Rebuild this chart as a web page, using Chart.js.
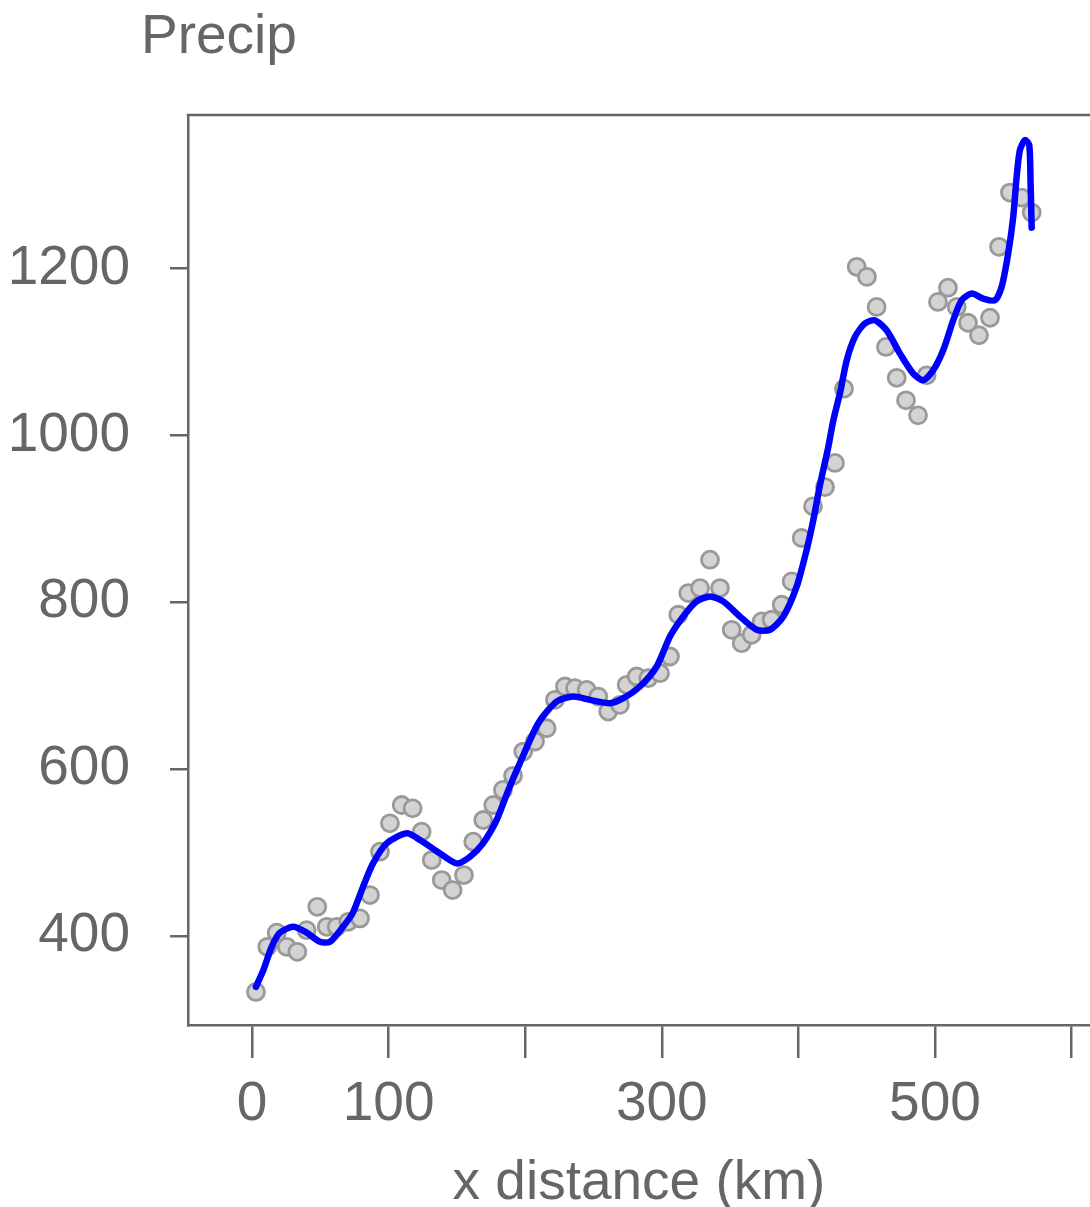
<!DOCTYPE html>
<html>
<head>
<meta charset="utf-8">
<script src="https://cdn.jsdelivr.net/npm/chart.js@4/dist/chart.umd.min.js"></script>
<style>
  html, body { margin: 0; padding: 0; background: #ffffff; overflow: hidden; }
  canvas { display: block; }
</style>
</head>
<body>
<canvas id="c" width="1090" height="1207"></canvas>
<script>
// ---- data ----
const pointX = [2.9, 11.2, 18.1, 25.4, 33.2, 40.0, 47.8, 54.7, 62.0, 70.5, 79.1, 86.4, 93.7, 101.0, 109.6, 117.6, 124.2, 131.6, 138.9, 146.9, 155.2, 162.0, 169.3, 176.6, 183.7, 191.1, 198.6, 207.2, 215.7, 221.8, 229.1, 236.5, 245.0, 253.5, 260.8, 269.4, 274.3, 281.6, 290.1, 298.7, 306.0, 312.1, 319.4, 328.0, 335.3, 342.6, 351.2, 358.5, 365.8, 373.1, 380.4, 387.8, 395.1, 402.4, 410.7, 419.5, 426.8, 433.4, 442.7, 450.2, 457.3, 464.1, 472.0, 478.8, 487.6, 493.9, 502.2, 509.5, 515.9, 524.2, 532.2, 540.3, 546.9, 554.9, 563.5, 570.8];
const pointY = [333, 387, 404, 387, 381, 407, 435, 411, 411, 417, 421, 449, 501, 535, 557, 553, 525, 491, 467, 455, 473, 513, 539, 557, 575, 592, 621, 633, 649, 683, 699, 697, 695, 687, 669, 677, 701, 711, 709, 715, 735, 785, 811, 817, 851, 817, 767, 751, 761, 777, 779, 797, 825, 877, 915, 938, 967, 1056, 1202, 1190, 1154, 1106, 1069, 1042, 1024, 1072, 1160, 1177, 1154, 1135, 1120, 1141, 1226, 1291, 1285, 1267];

const smoothX = [2.9, 8.3, 14.4, 20.5, 30.2, 40.0, 49.8, 57.1, 66.6, 73.9, 81.3, 88.6, 98.6, 113.3, 123.0, 137.6, 149.9, 159.6, 169.1, 179.1, 187.0, 195.0, 209.6, 223.1, 235.2, 247.4, 262.1, 271.8, 284.0, 296.3, 306.0, 315.7, 325.5, 335.3, 345.0, 357.2, 369.5, 379.2, 389.0, 398.8, 406.1, 411.0, 416.0, 421.9, 425.6, 430.5, 435.4, 441.4, 448.7, 456.0, 464.6, 474.4, 484.1, 491.4, 498.7, 506.0, 513.4, 519.5, 526.8, 535.3, 543.9, 548.8, 553.6, 557.3, 559.8, 562.2, 565.9, 569.0, 570.0, 570.8];
const smoothY = [339, 359, 387, 404, 411, 404, 393, 393, 411, 428, 459, 487, 511, 523, 515, 499, 487, 495, 511, 539, 572, 603, 655, 681, 687, 683, 679, 685, 699, 723, 759, 783, 801, 807, 801, 783, 767, 767, 783, 819, 863, 899, 942, 986, 1018, 1051, 1090, 1118, 1134, 1138, 1126, 1098, 1074, 1066, 1078, 1102, 1138, 1162, 1170, 1164, 1162, 1178, 1218, 1262, 1310, 1342, 1354, 1348, 1302, 1249];

const xTickValues = [0, 100, 200, 300, 400, 500, 600];
const xTickLabels = ['0', '100', '', '300', '', '500', ''];
const yTickValues = [400, 600, 800, 1000, 1200];
const yTickLabels = ['400', '600', '800', '1000', '1200'];

const chartTitle = 'Precip';
const xAxisTitle = 'x distance (km)';

// ---- chart ----
const TEXT = '#666666';
const AXIS = '#666666';
const FONT = 'Arial, "Liberation Sans", sans-serif';

const titleAndFrame = {
  id: 'titleAndFrame',
  afterDraw(chart) {
    const ctx = chart.ctx;
    const a = chart.chartArea;
    ctx.save();
    ctx.strokeStyle = AXIS;
    ctx.lineWidth = 2.5;
    ctx.beginPath();
    ctx.moveTo(a.left - 1.25, a.top);
    ctx.lineTo(chart.width, a.top);
    ctx.stroke();
    ctx.fillStyle = TEXT;
    ctx.font = '55px ' + FONT;
    ctx.textAlign = 'left';
    ctx.textBaseline = 'alphabetic';
    ctx.fillText(chartTitle, 141, 53);
    ctx.restore();
  }
};

new Chart(document.getElementById('c'), {
  type: 'scatter',
  data: {
    datasets: [
      {
        type: 'line',
        data: smoothX.map((x, i) => ({ x: x, y: smoothY[i] })),
        borderColor: '#0000ff',
        borderWidth: 6.5,
        pointRadius: 0,
        tension: 0.25,
        fill: false,
        borderJoinStyle: 'round',
        borderCapStyle: 'round'
      },
      {
        data: pointX.map((x, i) => ({ x: x, y: pointY[i] })),
        backgroundColor: '#d3d3d3',
        borderColor: '#999999',
        borderWidth: 2.8,
        pointRadius: 8.5
      }
    ]
  },
  options: {
    responsive: false,
    animation: false,
    events: [],
    layout: { autoPadding: false, padding: { top: 115, left: 0, right: 0, bottom: 0 } },
    plugins: {
      legend: { display: false },
      tooltip: { enabled: false },
      title: { display: false }
    },
    scales: {
      x: {
        type: 'linear',
        min: -46.85,
        max: 613.5,
        afterBuildTicks(scale) { scale.ticks = xTickValues.map(v => ({ value: v })); },
        afterFit(scale) { scale.height = 182; },
        ticks: {
          autoSkip: false,
          maxRotation: 0,
          padding: 14,
          color: TEXT,
          font: { family: FONT, size: 55 },
          callback(value) {
            const i = xTickValues.indexOf(value);
            return i >= 0 ? xTickLabels[i] : '';
          }
        },
        grid: {
          display: true,
          drawOnChartArea: false,
          drawTicks: true,
          tickLength: 33,
          color: AXIS,
          lineWidth: 2.5
        },
        border: { display: true, color: AXIS, width: 2.5 },
        title: {
          display: true,
          text: xAxisTitle,
          color: TEXT,
          font: { family: FONT, size: 55, lineHeight: 1.0 },
          padding: { top: 0, bottom: -4 }
        }
      },
      y: {
        type: 'linear',
        min: 293.3,
        max: 1384,
        afterBuildTicks(scale) { scale.ticks = yTickValues.map(v => ({ value: v })); },
        afterFit(scale) { scale.width = 188; },
        ticks: {
          autoSkip: false,
          padding: 40,
          color: TEXT,
          font: { family: FONT, size: 55 },
          callback(value) {
            const i = yTickValues.indexOf(value);
            return i >= 0 ? yTickLabels[i] : '';
          }
        },
        grid: {
          display: true,
          drawOnChartArea: false,
          drawTicks: true,
          tickLength: 18,
          color: AXIS,
          lineWidth: 2.5
        },
        border: { display: true, color: AXIS, width: 2.5 }
      }
    }
  },
  plugins: [titleAndFrame]
});
</script>
</body>
</html>
